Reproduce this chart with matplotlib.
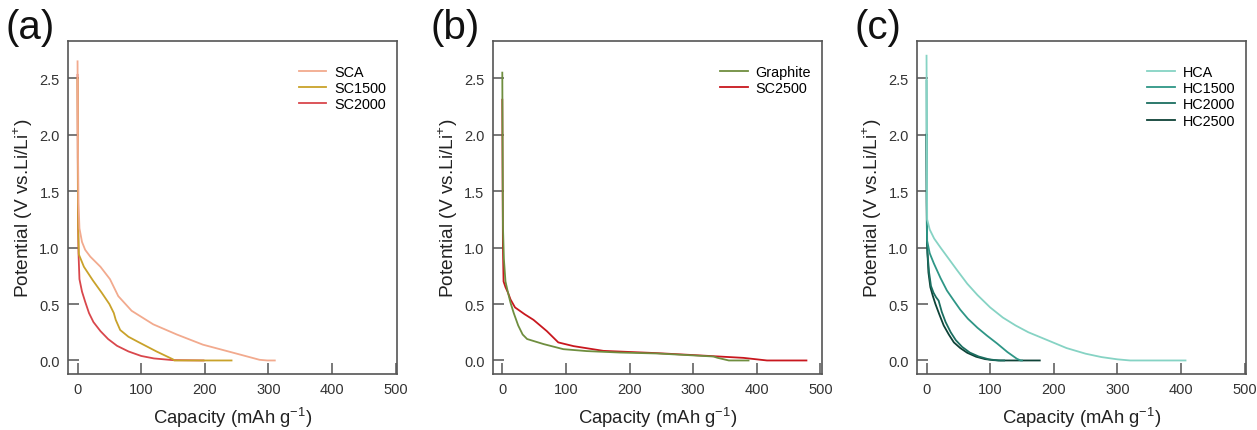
import matplotlib.pyplot as plt
from matplotlib.ticker import FormatStrFormatter

plt.rcParams['font.family'] = ['Liberation Sans', 'DejaVu Sans']
plt.rcParams['mathtext.fontset'] = 'custom'
plt.rcParams['mathtext.rm'] = 'Liberation Sans'

# (a) soft carbons
sca_x = [0, 0.5, 1.5, 3, 7, 12, 20, 36, 51, 64, 85, 119, 156, 197, 245, 286, 298, 310]
sca_y = [2.65, 2.0, 1.4, 1.17, 1.05, 0.98, 0.92, 0.83, 0.72, 0.57, 0.44, 0.32, 0.23, 0.14, 0.068, 0.006, 0, 0]
sc1500_x = [0, 0.5, 1, 2, 10, 24, 38, 50, 57, 60, 67, 80, 95, 124, 150, 152, 200, 242]
sc1500_y = [2.5, 1.8, 1.2, 0.94, 0.83, 0.71, 0.6, 0.5, 0.42, 0.36, 0.27, 0.21, 0.165, 0.08, 0.01, 0, 0, 0]
sc2000_x = [0, 0.3, 0.8, 1.5, 3, 7, 12, 18, 25, 36, 48, 62, 80, 100, 120, 150, 198]
sc2000_y = [2.53, 1.8, 1.2, 0.95, 0.72, 0.61, 0.52, 0.42, 0.34, 0.26, 0.19, 0.13, 0.08, 0.04, 0.018, 0.003, 0]

# (b) graphite vs SC2500
gr_x = [0, 0.5, 1, 2.5, 5, 9, 13, 18, 25, 32, 39, 65, 96, 133, 186, 243, 290, 332, 338, 356, 387]
gr_y = [2.55, 1.9, 1.2, 0.9, 0.7, 0.6, 0.51, 0.42, 0.31, 0.23, 0.19, 0.145, 0.1, 0.083, 0.07, 0.062, 0.048, 0.035, 0.024, 0, 0]
sc2500_x = [0, 0.5, 1, 2, 5, 9, 13, 20, 35, 49, 70, 88, 112, 159, 243, 306, 379, 416, 478]
sc2500_y = [2.31, 1.6, 1.0, 0.7, 0.65, 0.6, 0.54, 0.47, 0.41, 0.36, 0.26, 0.16, 0.127, 0.085, 0.065, 0.046, 0.023, 0, 0]

# (c) hard carbons
hca_x = [0, 0.5, 1, 5, 12, 22, 35, 48, 64, 80, 100, 120, 140, 160, 190, 220, 250, 275, 300, 320, 407]
hca_y = [2.70, 2.0, 1.25, 1.16, 1.08, 1.0, 0.9, 0.8, 0.68, 0.58, 0.47, 0.38, 0.31, 0.25, 0.18, 0.11, 0.06, 0.03, 0.01, 0, 0]
hc1500_x = [0, 0.3, 0.7, 1, 5, 11.5, 22, 32, 43, 53, 65, 80, 95, 111, 127, 142, 148, 150]
hc1500_y = [2.48, 1.7, 1.2, 1.06, 0.95, 0.86, 0.73, 0.62, 0.53, 0.45, 0.37, 0.29, 0.22, 0.15, 0.075, 0.015, 0, 0]
hc2000_x = [0, 0.3, 0.7, 1.5, 4, 7, 11, 15, 19, 24, 30, 38, 46, 56, 68, 82, 98, 113, 122]
hc2000_y = [2.0, 1.4, 1.05, 0.95, 0.78, 0.66, 0.6, 0.56, 0.53, 0.43, 0.34, 0.25, 0.18, 0.12, 0.07, 0.035, 0.01, 0, 0]
hc2500_x = [0, 0.3, 0.7, 1.5, 3, 6, 10, 14, 20, 27, 35, 43, 53, 64, 78, 92, 105, 116, 178]
hc2500_y = [2.0, 1.4, 1.05, 0.95, 0.78, 0.65, 0.57, 0.5, 0.41, 0.31, 0.23, 0.16, 0.11, 0.068, 0.033, 0.012, 0.003, 0, 0]

panels = [
    ('(a)', [(sca_x, sca_y, 'SCA', '#F2AA8E'),
             (sc1500_x, sc1500_y, 'SC1500', '#C9A22A'),
             (sc2000_x, sc2000_y, 'SC2000', '#D9474C')]),
    ('(b)', [(gr_x, gr_y, 'Graphite', '#6F8E3F'),
             (sc2500_x, sc2500_y, 'SC2500', '#C8171E')]),
    ('(c)', [(hca_x, hca_y, 'HCA', '#86D3C4'),
             (hc1500_x, hc1500_y, 'HC1500', '#2E9686'),
             (hc2000_x, hc2000_y, 'HC2000', '#1B6E60'),
             (hc2500_x, hc2500_y, 'HC2500', '#0E4237')]),
]

fig = plt.figure(figsize=(12.57, 4.31), dpi=100)
lefts = [0.0541, 0.392, 0.7295]

for (tag, series), left in zip(panels, lefts):
    ax = fig.add_axes([left, 0.1299, 0.2617, 0.7726])
    # draw back-to-front so the first legend entry ends up on top like the original
    for x, y, name, col in reversed(series):
        ax.plot(x, y, color=col, lw=1.3, label=name)
    h, l = ax.get_legend_handles_labels()
    ax.legend(h[::-1], l[::-1], loc='upper right', bbox_to_anchor=(0.985, 0.945),
              frameon=False, fontsize=10.4, handlelength=1.9, handletextpad=0.55,
              labelspacing=0.15, borderaxespad=0)
    ax.set_xlim(-15, 502)
    ax.set_ylim(-0.12, 2.83)
    ax.set_xticks([0, 100, 200, 300, 400, 500])
    ax.set_yticks([0, 0.5, 1.0, 1.5, 2.0, 2.5])
    ax.yaxis.set_major_formatter(FormatStrFormatter('%.1f'))
    ax.tick_params(direction='in', length=8, width=1.1, color='#555555',
                   labelsize=10.5, labelcolor='#333333', pad=6)
    for s in ax.spines.values():
        s.set_color('#555555')
        s.set_linewidth(1.2)
    ax.set_xlabel('Capacity (mAh g$^{-1}$)', fontsize=13.3, color='#222222', labelpad=6)
    ax.set_ylabel('Potential (V vs.Li/Li$^{+}$)', fontsize=13.8, color='#222222', labelpad=3)
    ax.text(-0.19, 0.985, tag, transform=ax.transAxes, fontsize=29,
            color='#111111', va='bottom', ha='left')

fig.savefig('out.png', dpi=100)
